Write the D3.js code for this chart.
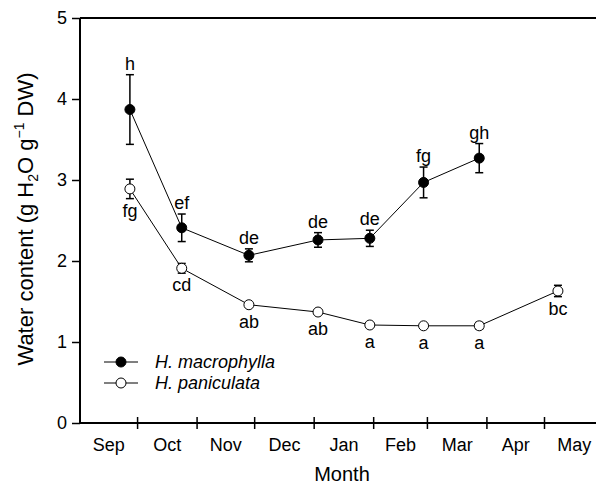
<!DOCTYPE html>
<html>
<head>
<meta charset="utf-8">
<script src="https://cdn.jsdelivr.net/npm/d3@7"></script>
<style>
  html, body { margin: 0; padding: 0; background: #fff; }
  svg { display: block; font-family: Arial, "Liberation Sans", sans-serif; }
</style>
</head>
<body>
<svg id="chart" width="596" height="486"></svg>
<script>
// ---- data ----
const monthLabels = ["Sep", "Oct", "Nov", "Dec", "Jan", "Feb", "Mar", "Apr", "May"];
const yTicks = [0, 1, 2, 3, 4, 5];

const macroDates = ["2012-09-27", "2012-10-24", "2012-11-28", "2013-01-03", "2013-01-30", "2013-02-27", "2013-03-28"];
const macroValues = [3.87, 2.41, 2.07, 2.26, 2.28, 2.97, 3.27];
const macroErrors = [0.43, 0.17, 0.08, 0.09, 0.10, 0.19, 0.18];
const macroLetters = ["h", "ef", "de", "de", "de", "fg", "gh"];

const panDates = ["2012-09-27", "2012-10-24", "2012-11-28", "2013-01-03", "2013-01-30", "2013-02-27", "2013-03-28", "2013-05-08"];
const panValues = [2.89, 1.91, 1.46, 1.37, 1.21, 1.20, 1.20, 1.63];
const panErrors = [0.12, 0.06, 0.02, 0.02, 0.02, 0.02, 0.04, 0.07];
const panLetters = ["fg", "cd", "ab", "ab", "a", "a", "a", "bc"];

const seriesNames = ["H. macrophylla", "H. paniculata"];

// ---- layout ----
const svg = d3.select("#chart");
const mL = 80, mT = 18, mB = 423, mR = 604;
const parse = d3.utcParse("%Y-%m-%d");
const x = d3.scaleUtc().domain([parse("2012-09-01"), parse("2013-06-01")]).range([mL, mR]);
const y = d3.scaleLinear().domain([0, 5]).range([mB, mT]);

const monthStarts = d3.utcMonth.range(parse("2012-09-01"), parse("2013-06-02"));

// frame top
svg.append("line").attr("x1", mL).attr("x2", mR).attr("y1", mT).attr("y2", mT)
  .attr("stroke", "#000").attr("stroke-width", 2);

// y axis
const yAxis = d3.axisLeft(y).tickValues(yTicks).tickSize(8).tickPadding(5).tickFormat(d3.format("d"));
const gy = svg.append("g").attr("transform", `translate(${mL},0)`).call(yAxis);
gy.select(".domain").attr("stroke-width", 2).attr("d", `M0,${mB}V${mT}`);
gy.selectAll(".tick line").attr("stroke-width", 1.5);
gy.selectAll(".tick text").attr("font-size", 18).attr("font-family", "Arial, 'Liberation Sans', sans-serif").attr("fill", "#000");

// x axis with crossing ticks at month starts
const gx = svg.append("g").attr("transform", `translate(0,${mB})`);
gx.append("line").attr("x1", mL).attr("x2", mR).attr("stroke", "#000").attr("stroke-width", 2);
gx.selectAll("line.mt").data(monthStarts.slice(1, -1)).join("line").attr("class", "mt")
  .attr("x1", d => x(d)).attr("x2", d => x(d)).attr("y1", -6).attr("y2", 6)
  .attr("stroke", "#000").attr("stroke-width", 1.5);
gx.selectAll("text.ml").data(monthLabels).join("text").attr("class", "ml")
  .attr("x", (d, i) => (x(monthStarts[i]) + x(monthStarts[i + 1])) / 2)
  .attr("y", 28).attr("text-anchor", "middle").attr("font-size", 18).text(d => d);

// axis titles
svg.append("text").attr("x", (mL + mR) / 2).attr("y", 481).attr("text-anchor", "middle")
  .attr("font-size", 20).text("Month");

const yt = svg.append("text").attr("transform", `translate(33,219) rotate(-90)`)
  .attr("text-anchor", "middle").attr("font-size", 22);
yt.append("tspan").text("Water content (g H");
yt.append("tspan").attr("font-size", 14).attr("dy", 5).text("2");
yt.append("tspan").attr("dy", -5).text("O g");
yt.append("tspan").attr("font-size", 14).attr("dy", -9).text("\u22121");
yt.append("tspan").attr("dy", 9).text(" DW)");

// series drawing
function drawSeries(dates, values, errors, letters, fill, above) {
  const pts = dates.map((d, i) => ({ x: x(parse(d)), v: values[i], e: errors[i], l: letters[i] }));
  const g = svg.append("g");
  g.append("path").datum(pts)
    .attr("d", d3.line().x(d => d.x).y(d => y(d.v)))
    .attr("fill", "none").attr("stroke", "#000").attr("stroke-width", 1);
  const eb = g.selectAll("g.eb").data(pts).join("g").attr("class", "eb");
  eb.append("line").attr("x1", d => d.x).attr("x2", d => d.x)
    .attr("y1", d => y(d.v + d.e)).attr("y2", d => y(d.v - d.e)).attr("stroke", "#000").attr("stroke-width", 1.5);
  eb.append("line").attr("x1", d => d.x - 4).attr("x2", d => d.x + 4)
    .attr("y1", d => y(d.v + d.e)).attr("y2", d => y(d.v + d.e)).attr("stroke", "#000").attr("stroke-width", 1.5);
  eb.append("line").attr("x1", d => d.x - 4).attr("x2", d => d.x + 4)
    .attr("y1", d => y(d.v - d.e)).attr("y2", d => y(d.v - d.e)).attr("stroke", "#000").attr("stroke-width", 1.5);
  g.selectAll("circle").data(pts).join("circle")
    .attr("cx", d => d.x).attr("cy", d => y(d.v)).attr("r", 5)
    .attr("fill", fill).attr("stroke", "#000").attr("stroke-width", 1);
  g.selectAll("text.lt").data(pts).join("text").attr("class", "lt")
    .attr("x", d => d.x)
    .attr("y", d => above ? Math.min(y(d.v + d.e), y(d.v) - 5) - 5 : Math.max(y(d.v - d.e), y(d.v) + 5) + 18)
    .attr("text-anchor", "middle").attr("font-size", 18).text(d => d.l);
}
drawSeries(panDates, panValues, panErrors, panLetters, "#fff", false);
drawSeries(macroDates, macroValues, macroErrors, macroLetters, "#000", true);

// legend
const lg = svg.append("g");
const fills = ["#000", "#fff"];
seriesNames.forEach((name, i) => {
  const ly = 362 + i * 21;
  lg.append("line").attr("x1", 104).attr("x2", 138).attr("y1", ly).attr("y2", ly).attr("stroke", "#000").attr("stroke-width", 1);
  lg.append("circle").attr("cx", 121).attr("cy", ly).attr("r", 5).attr("fill", fills[i]).attr("stroke", "#000");
  lg.append("text").attr("x", 155).attr("y", ly + 6).attr("font-size", 18).attr("font-style", "italic").text(name);
});
</script>
</body>
</html>
